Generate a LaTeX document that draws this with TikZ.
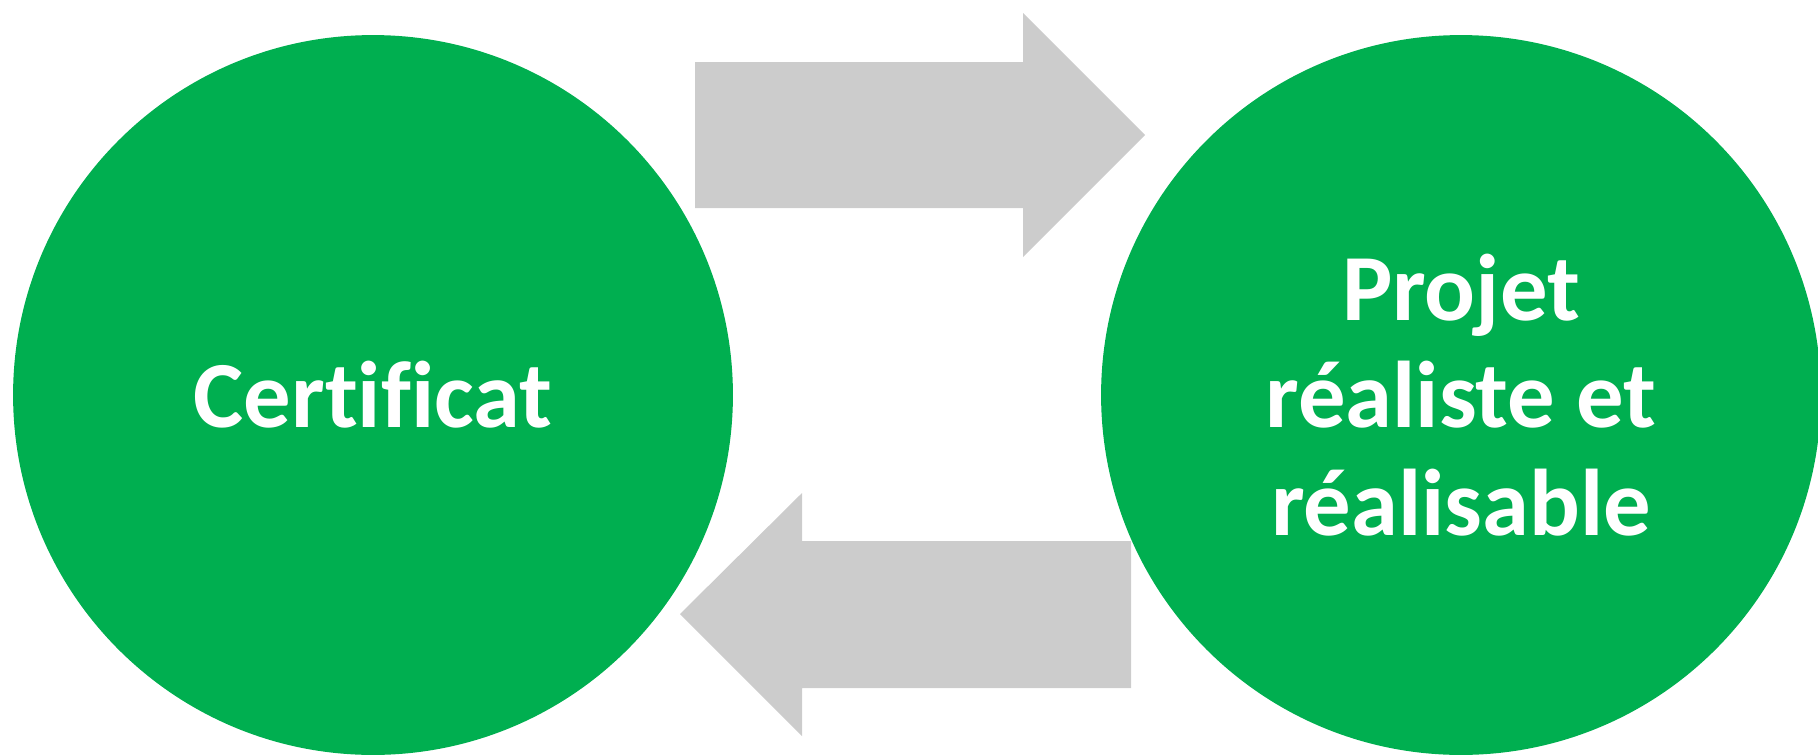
\documentclass[tikz,border=0pt]{standalone}
\usepackage{fontspec}
\setmainfont{Carlito}[Ligatures=NoCommon]
\usepackage{xcolor}
\usepackage{tikz}
\definecolor{OffGreen}{RGB}{0,175,80}
\definecolor{ArrGrey}{RGB}{204,204,204}

\begin{document}
\begin{tikzpicture}[x=0.02cm, y=-0.02cm,
          bubble/.style={circle, fill=OffGreen, minimum size=14.4cm, inner sep=0pt,
                         align=center, text=white,
                         font=\bfseries\fontsize{53.9pt}{61.2pt}\selectfont},
          bigarr/.style={fill=ArrGrey}
        ]
        \useasboundingbox (0,0) rectangle (1818,754);
        \clip (0,0) rectangle (1818,754);

        \node[bubble] (cert)   at (373, 395)  {Certificat};
        \node[bubble] (projet) at (1461, 395) {Projet\\réaliste et\\réalisable};

        % top arrow, to the right
        \fill[bigarr] (695,62) -- (1023,62) -- (1023,13) -- (1145,135)
              -- (1023,257) -- (1023,208) -- (695,208) -- cycle;
        % bottom arrow, to the left
        \fill[bigarr] (1131,541) -- (802,541) -- (802,493) -- (680,614)
              -- (802,736) -- (802,688) -- (1131,688) -- cycle;
      \end{tikzpicture}
\end{document}
